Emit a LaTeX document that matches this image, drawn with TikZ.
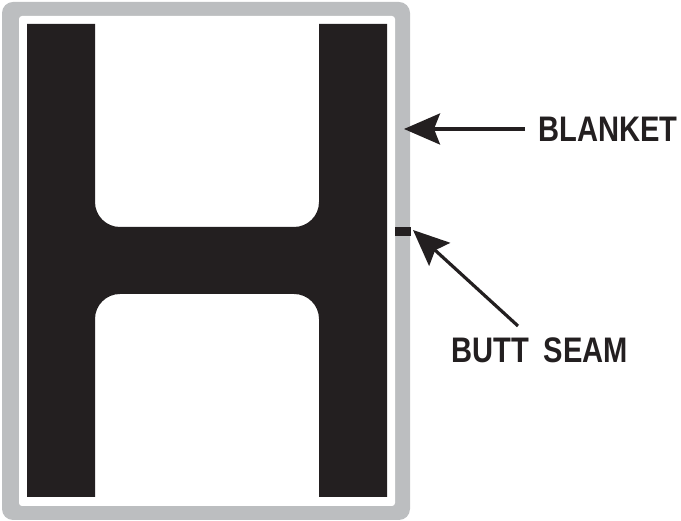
\documentclass[tikz,border=0pt]{standalone}
\usepackage{fontspec}
\newfontfamily\labfont[FakeStretch=0.82]{Liberation Sans}
\usetikzlibrary{arrows.meta}
\definecolor{ink}{HTML}{231F20}
\definecolor{blanketgray}{HTML}{BCBEC0}
\begin{document}
\begin{tikzpicture}[x=1pt,y=1pt,
  lab/.style={font=\labfont\bfseries\fontsize{35.5}{35.5}\selectfont, text=ink, inner sep=0pt, anchor=base west},
  pointer/.style={draw=ink, line width=3.2pt, -{Stealth[length=36pt,width=31pt,inset=6pt]}}]
\useasboundingbox (0,0) rectangle (681,521);
% blanket frame
\fill[blanketgray, rounded corners=11pt] (2,1) rectangle (410,519);
\fill[white, rounded corners=3pt] (19,15) rectangle (395,505);
% letter H
\fill[ink] (27,497) -- (95,497) -- (95,319)
  arc[start angle=180,end angle=270,radius=25] -- (294,294)
  arc[start angle=270,end angle=360,radius=25] -- (319,497) -- (387,497) -- (387,24) -- (319,24) -- (319,202)
  arc[start angle=0,end angle=90,radius=25] -- (120,227)
  arc[start angle=90,end angle=180,radius=25] -- (95,24) -- (27,24) -- cycle;
% butt seam mark
\fill[ink] (395,285) rectangle (411,294);
% labels
\node[lab] (blanket) at (538,379) {BLANKET};
\node[lab] (seam) at (451,158) {BUTT\hspace{15pt}SEAM};
\coordinate (blanketTail) at (525,392);
\coordinate (blanketTip) at (404,392);
\coordinate (seamTail) at (518,195);
\coordinate (seamTip) at (413,291);
\draw[pointer] (blanketTail) -- (blanketTip);
\draw[pointer] (seamTail) -- (seamTip);
\end{tikzpicture}
\end{document}
